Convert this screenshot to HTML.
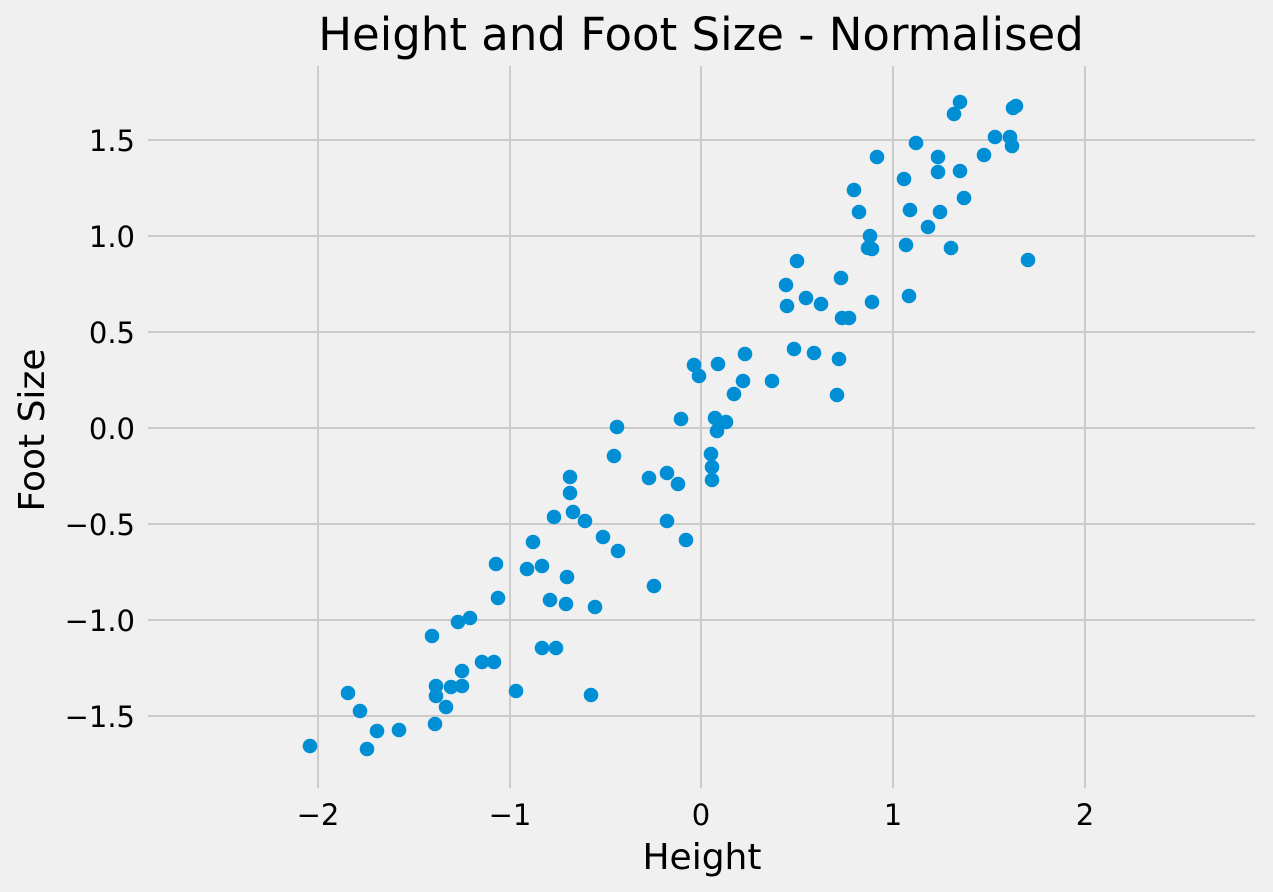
<!DOCTYPE html>
<html><head><meta charset="utf-8"><style>
html,body{margin:0;padding:0;background:#f0f0f0;}
svg{display:block;font-family:"DejaVu Sans","Liberation Sans",sans-serif;}
</style></head><body>
<svg width="1273" height="892" viewBox="0 0 1273 892" xmlns="http://www.w3.org/2000/svg">
<rect width="1273" height="892" fill="#f0f0f0"/>
<g stroke="#cbcbcb" stroke-width="2">
<line x1="318" y1="66" x2="318" y2="788"/>
<line x1="510" y1="66" x2="510" y2="788"/>
<line x1="701" y1="66" x2="701" y2="788"/>
<line x1="893" y1="66" x2="893" y2="788"/>
<line x1="1085" y1="66" x2="1085" y2="788"/>
<line x1="148" y1="140" x2="1255" y2="140"/>
<line x1="148" y1="236" x2="1255" y2="236"/>
<line x1="148" y1="332" x2="1255" y2="332"/>
<line x1="148" y1="428" x2="1255" y2="428"/>
<line x1="148" y1="524" x2="1255" y2="524"/>
<line x1="148" y1="620" x2="1255" y2="620"/>
<line x1="148" y1="716" x2="1255" y2="716"/>
</g>
<g font-size="29" fill="#000" text-anchor="middle">
<text x="318" y="825">−2</text><text x="510" y="825">−1</text><text x="701" y="825">0</text><text x="893" y="825">1</text><text x="1085" y="825">2</text>
</g>
<g font-size="29" fill="#000" text-anchor="end">
<text x="135" y="151">1.5</text><text x="135" y="247">1.0</text><text x="135" y="343">0.5</text><text x="135" y="439">0.0</text><text x="135" y="535">−0.5</text><text x="135" y="631">−1.0</text><text x="135" y="727">−1.5</text>
</g>
<text x="701" y="50" font-size="45" text-anchor="middle" fill="#000">Height and Foot Size - Normalised</text>
<text x="702" y="869" font-size="36" text-anchor="middle" fill="#000">Height</text>
<text x="0" y="0" font-size="36" text-anchor="middle" fill="#000" transform="translate(44,430) rotate(-90)">Foot Size</text>
<g fill="#008fd5">
<circle cx="310" cy="746" r="7.3"/><circle cx="348" cy="693" r="7.3"/><circle cx="360" cy="711" r="7.3"/><circle cx="367" cy="749" r="7.3"/><circle cx="377" cy="731" r="7.3"/><circle cx="399" cy="730" r="7.3"/><circle cx="432" cy="636" r="7.3"/><circle cx="436" cy="686" r="7.3"/><circle cx="436" cy="696" r="7.3"/><circle cx="435" cy="724" r="7.3"/><circle cx="446" cy="707" r="7.3"/><circle cx="451" cy="687" r="7.3"/><circle cx="458" cy="622" r="7.3"/><circle cx="462" cy="671" r="7.3"/><circle cx="462" cy="686" r="7.3"/><circle cx="470" cy="618" r="7.3"/><circle cx="482" cy="662" r="7.3"/><circle cx="494" cy="662" r="7.3"/><circle cx="496" cy="564" r="7.3"/><circle cx="498" cy="598" r="7.3"/><circle cx="516" cy="691" r="7.3"/><circle cx="527" cy="569" r="7.3"/><circle cx="533" cy="542" r="7.3"/><circle cx="542" cy="566" r="7.3"/><circle cx="542" cy="648" r="7.3"/><circle cx="550" cy="600" r="7.3"/><circle cx="554" cy="517" r="7.3"/><circle cx="556" cy="648" r="7.3"/><circle cx="566" cy="604" r="7.3"/><circle cx="567" cy="577" r="7.3"/><circle cx="570" cy="477" r="7.3"/><circle cx="570" cy="493" r="7.3"/><circle cx="573" cy="512" r="7.3"/><circle cx="585" cy="521" r="7.3"/><circle cx="591" cy="695" r="7.3"/><circle cx="595" cy="607" r="7.3"/><circle cx="603" cy="537" r="7.3"/><circle cx="614" cy="456" r="7.3"/><circle cx="617" cy="427" r="7.3"/><circle cx="618" cy="551" r="7.3"/><circle cx="649" cy="478" r="7.3"/><circle cx="654" cy="586" r="7.3"/><circle cx="667" cy="473" r="7.3"/><circle cx="667" cy="521" r="7.3"/><circle cx="678" cy="484" r="7.3"/><circle cx="681" cy="419" r="7.3"/><circle cx="686" cy="540" r="7.3"/><circle cx="694" cy="365" r="7.3"/><circle cx="699" cy="376" r="7.3"/><circle cx="712" cy="467" r="7.3"/><circle cx="712" cy="480" r="7.3"/><circle cx="711" cy="454" r="7.3"/><circle cx="715" cy="418" r="7.3"/><circle cx="717" cy="431" r="7.3"/><circle cx="718" cy="364" r="7.3"/><circle cx="726" cy="422" r="7.3"/><circle cx="734" cy="394" r="7.3"/><circle cx="743" cy="381" r="7.3"/><circle cx="745" cy="354" r="7.3"/><circle cx="772" cy="381" r="7.3"/><circle cx="786" cy="285" r="7.3"/><circle cx="787" cy="306" r="7.3"/><circle cx="794" cy="349" r="7.3"/><circle cx="797" cy="261" r="7.3"/><circle cx="806" cy="298" r="7.3"/><circle cx="814" cy="353" r="7.3"/><circle cx="821" cy="304" r="7.3"/><circle cx="837" cy="395" r="7.3"/><circle cx="839" cy="359" r="7.3"/><circle cx="841" cy="278" r="7.3"/><circle cx="842" cy="318" r="7.3"/><circle cx="849" cy="318" r="7.3"/><circle cx="854" cy="190" r="7.3"/><circle cx="859" cy="212" r="7.3"/><circle cx="868" cy="248" r="7.3"/><circle cx="870" cy="236" r="7.3"/><circle cx="872" cy="249" r="7.3"/><circle cx="872" cy="302" r="7.3"/><circle cx="877" cy="157" r="7.3"/><circle cx="904" cy="179" r="7.3"/><circle cx="906" cy="245" r="7.3"/><circle cx="909" cy="296" r="7.3"/><circle cx="910" cy="210" r="7.3"/><circle cx="916" cy="143" r="7.3"/><circle cx="928" cy="227" r="7.3"/><circle cx="938" cy="172" r="7.3"/><circle cx="938" cy="157" r="7.3"/><circle cx="940" cy="212" r="7.3"/><circle cx="951" cy="248" r="7.3"/><circle cx="954" cy="114" r="7.3"/><circle cx="960" cy="102" r="7.3"/><circle cx="960" cy="171" r="7.3"/><circle cx="964" cy="198" r="7.3"/><circle cx="984" cy="155" r="7.3"/><circle cx="995" cy="137" r="7.3"/><circle cx="1010" cy="137" r="7.3"/><circle cx="1012" cy="146" r="7.3"/><circle cx="1013" cy="108" r="7.3"/><circle cx="1016" cy="106" r="7.3"/><circle cx="1028" cy="260" r="7.3"/>
</g>
</svg>
</body></html>
